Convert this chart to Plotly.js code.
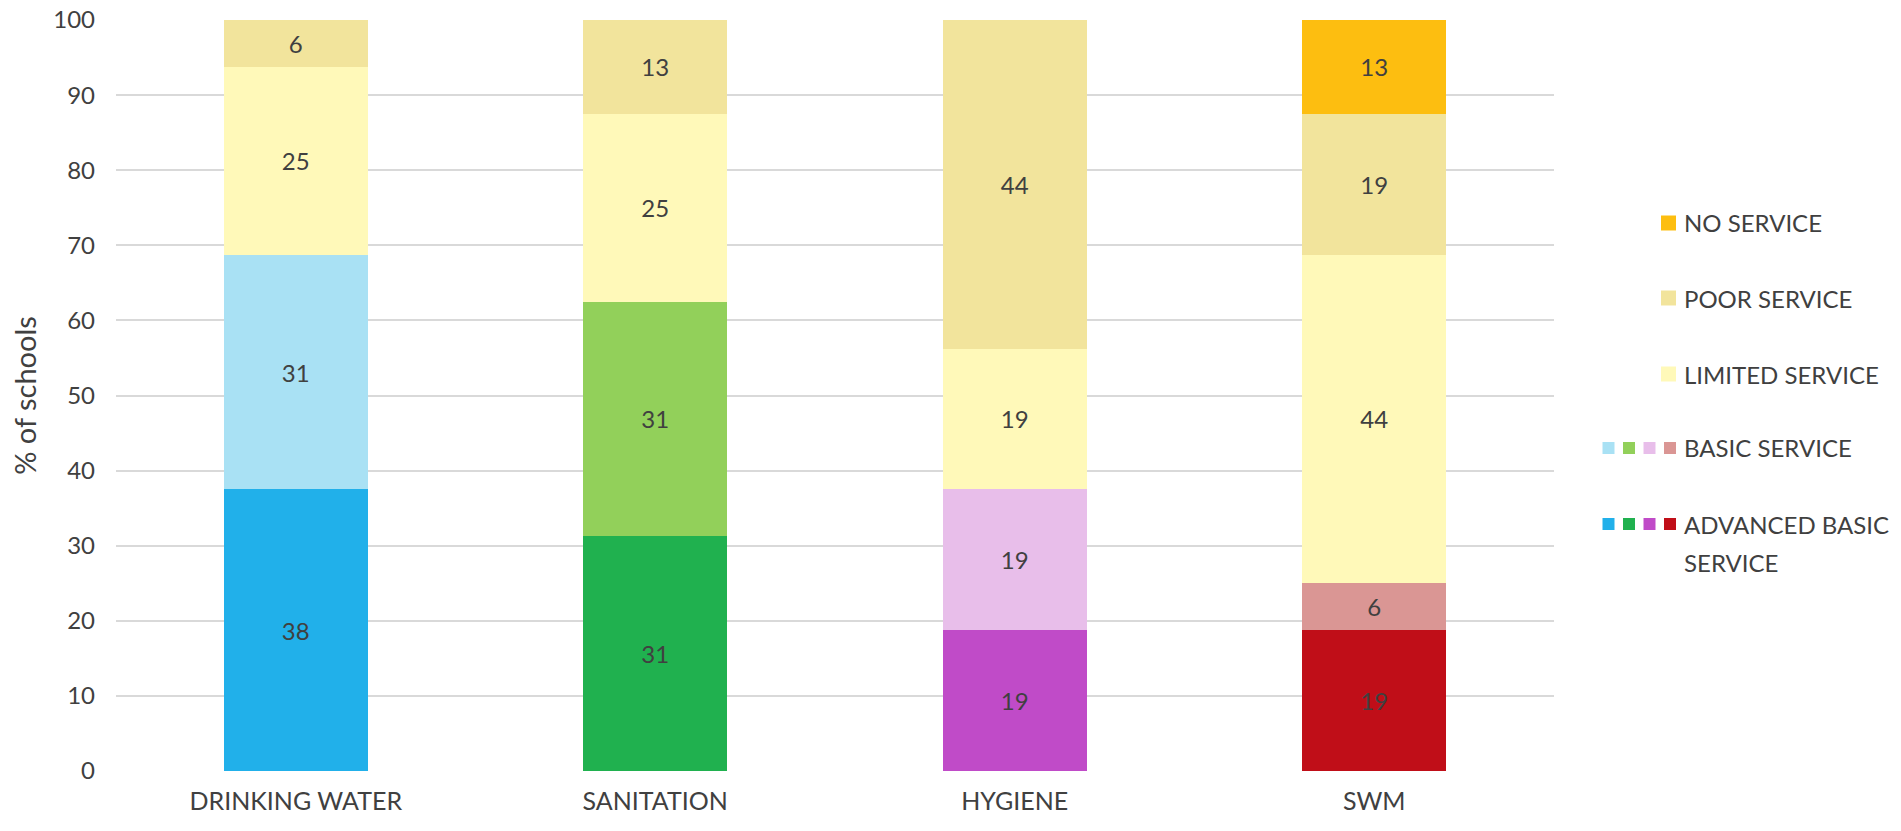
<!DOCTYPE html>
<html>
<head>
<meta charset="utf-8">
<script src="https://cdn.plot.ly/plotly-3.0.1.min.js"></script>
<style>
  html, body { margin: 0; padding: 0; background: #fff; }
  #chart { width: 1901px; height: 831px; }
</style>
</head>
<body>
<div id="chart"></div>
<script>
// categories and service levels (percent of schools)
var categories = ['DRINKING WATER', 'SANITATION', 'HYGIENE', 'SWM'];

var advancedBasic = [37.5, 31.25, 18.75, 18.75];
var basic         = [31.25, 31.25, 18.75, 6.25];
var limited       = [25, 25, 18.75, 43.75];
var poor          = [6.25, 12.5, 43.75, 18.75];
var noService     = [0, 0, 0, 12.5];

var yTicks = [0, 10, 20, 30, 40, 50, 60, 70, 80, 90, 100];

// colours: advanced/basic differ per category
var advancedColors = ['#21B0EA', '#20B14F', '#C04BC8', '#C00E18'];
var basicColors    = ['#A9E1F4', '#92D05A', '#E8BEEA', '#DA9694'];
var limitedColor = '#FFF9B9';
var poorColor    = '#F2E49C';
var noColor      = '#FDBE10';

var textColor = '#404040';
var font = 'Lato, "Open Sans", sans-serif';

function makeStack(values, color, name) {
  return {
    x: categories,
    y: values,
    name: name,
    type: 'bar',
    width: 0.4,
    marker: {color: color, line: {width: 0}},
    text: values.map(v => v > 0 ? String(Math.round(v)) : ''),
    textposition: 'inside',
    insidetextanchor: 'middle',
    textangle: 0,
    constraintext: 'none',
    textfont: {color: textColor, size: 24, family: font},
    hoverinfo: 'skip'
  };
}

var data = [
  makeStack(advancedBasic, advancedColors, 'ADVANCED BASIC SERVICE'),
  makeStack(basic, basicColors, 'BASIC SERVICE'),
  makeStack(limited, limitedColor, 'LIMITED SERVICE'),
  makeStack(poor, poorColor, 'POOR SERVICE'),
  makeStack(noService, noColor, 'NO SERVICE')
];

// hand-made legend (multi-swatch rows), placed in pixels then converted to paper
var W = 1901, H = 831;
var mL = 116, mR = 347, mT = 20, mB = 60;
var plotW = W - mL - mR, plotH = H - mT - mB;
function px(x) { return (x - mL) / plotW; }
function py(y) { return (H - mB - y) / plotH; }

var legendRows = [
  {lines: ['NO SERVICE'], colors: [noColor], y: 223},
  {lines: ['POOR SERVICE'], colors: [poorColor], y: 298},
  {lines: ['LIMITED SERVICE'], colors: [limitedColor], y: 374},
  {lines: ['BASIC SERVICE'], colors: basicColors, y: 448},
  {lines: ['ADVANCED BASIC', 'SERVICE'], colors: advancedColors, y: 524}
];

var shapes = [], annotations = [];
var textX = 1682, lastSqRight = 1676, step = 20.5, lineGap = 38;
legendRows.forEach(function(r) {
  var n = r.colors.length;
  var sq = n > 1 ? 12 : 15;
  r.colors.forEach(function(c, i) {
    var right = lastSqRight - (n - 1 - i) * step;
    shapes.push({
      type: 'rect', xref: 'paper', yref: 'paper',
      x0: px(right - sq), x1: px(right),
      y0: py(r.y + sq / 2), y1: py(r.y - sq / 2),
      fillcolor: c, line: {width: 0}
    });
  });
  r.lines.forEach(function(t, j) {
    annotations.push({
      xref: 'paper', yref: 'paper',
      x: px(textX), y: py(r.y + j * lineGap),
      xanchor: 'left', yanchor: 'middle',
      text: t, showarrow: false, align: 'left',
      font: {family: font, size: 24, color: textColor}
    });
  });
});

var layout = {
  width: W, height: H,
  margin: {l: mL, r: mR, t: mT, b: mB},
  barmode: 'stack',
  showlegend: false,
  paper_bgcolor: '#fff',
  plot_bgcolor: '#fff',
  font: {family: font, color: textColor, size: 24},
  xaxis: {
    type: 'category',
    showgrid: false,
    showline: false,
    zeroline: false,
    ticks: '',
    ticklabelstandoff: 13,
    tickfont: {size: 25, color: textColor}
  },
  yaxis: {
    range: [0, 100],
    tickvals: yTicks,
    showgrid: true,
    gridcolor: '#D9D9D9',
    gridwidth: 2,
    zeroline: false,
    showline: false,
    ticks: '',
    ticklabelstandoff: 20,
    tickfont: {size: 24, color: textColor},
    title: {text: '% of schools', standoff: 8, font: {size: 29, color: textColor}}
  },
  shapes: shapes,
  annotations: annotations
};

Plotly.newPlot('chart', data, layout, {displayModeBar: false, staticPlot: true});
</script>
</body>
</html>
